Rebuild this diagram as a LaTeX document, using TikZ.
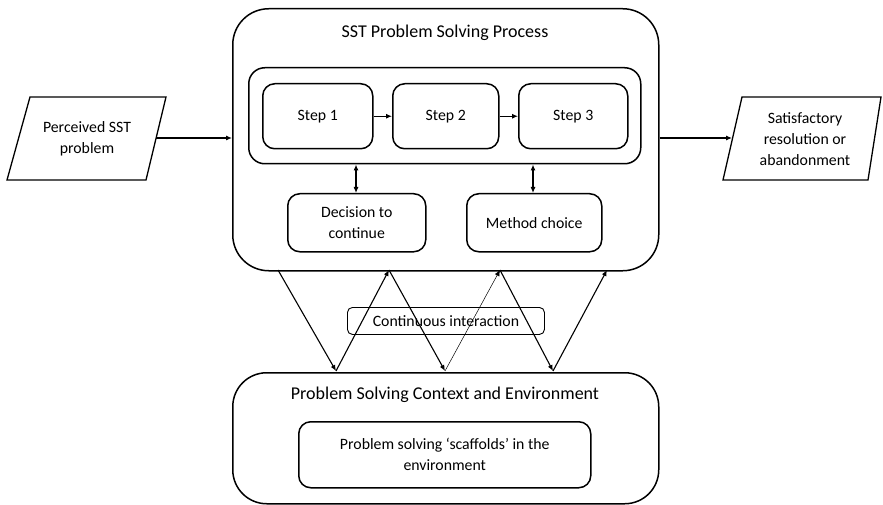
\documentclass[tikz,border=0pt]{standalone}
\usepackage{fontspec}
\setmainfont{Carlito}
\usetikzlibrary{arrows.meta,shapes.geometric}
\tikzset{
  box/.style={draw, line width=1.5pt, rounded corners=#1},
  box/.default=12pt,
  txt/.style={font=\fontsize{15.8}{21}\selectfont, align=center},
  ttl/.style={font=\fontsize{18}{21}\selectfont, align=center},
  arr/.style={line width=1.1pt, -{Latex[length=6pt,width=5pt]}},
  darr/.style={line width=1.1pt, {Latex[length=6pt,width=5pt]}-{Latex[length=6pt,width=5pt]}},
  para/.style={draw, line width=1.3pt}
}
\begin{document}
\begin{tikzpicture}[x=1pt,y=-1pt]
\useasboundingbox (0,0) rectangle (883,505);
% top big box
\node[box=36pt, minimum width=426pt, minimum height=262pt, anchor=north west] (top) at (232,8) {};
\node[ttl] (toptitle) at (445,33) {SST Problem Solving Process};
\node[box=16pt, minimum width=392pt, minimum height=96pt, anchor=north west] (cont) at (248,67) {};
\node[box, txt, minimum width=110pt, minimum height=65pt, anchor=north west] (s1) at (262,83) {};
\node[txt] at (s1.center) {Step 1};
\node[box, txt, minimum width=106pt, minimum height=65pt, anchor=north west] (s2) at (392,83) {};
\node[txt] at (s2.center) {Step 2};
\node[box, txt, minimum width=109pt, minimum height=65pt, anchor=north west] (s3) at (518,83) {};
\node[txt] at (s3.center) {Step 3};
\draw[arr] (s1) -- (s2);
\draw[arr] (s2) -- (s3);
\node[box, minimum width=138pt, minimum height=58pt, anchor=north west] (dec) at (287,193) {};
\node[txt] at (dec.center) {Decision to\\continue};
\node[box, minimum width=135pt, minimum height=58pt, anchor=north west] (meth) at (466,193) {};
\node[txt] at (meth.center) {Method choice};
\draw[darr] (dec.north -| 356,0) coordinate (d1) -- (cont.south -| d1);
\draw[darr] (meth.north -| 533,0) coordinate (m1) -- (cont.south -| m1);
% parallelograms
\draw[para] (30,97) -- (166,97) -- (146,180) -- (7,180) -- cycle;
\coordinate (inR) at (156,138);
\node[txt] (in) at (87,139) {Perceived SST\\problem};
\draw[para] (742,97) -- (881,97) -- (868,180) -- (723,180) -- cycle;
\coordinate (outL) at (732,138);
\node[txt] (out) at (805,139) {Satisfactory\\resolution or\\abandonment};
\draw[arr] (inR) -- (top.west |- inR);
\draw[arr] (top.east |- outL) -- (outL);
% bottom box
\node[box=34pt, minimum width=426pt, minimum height=131pt, anchor=north west] (bot) at (232,372) {};
\node[ttl] (bottitle) at (445,395) {Problem Solving Context and Environment};
\node[box, minimum width=292pt, minimum height=66pt, anchor=north west] (scaf) at (298,421) {};
\node[txt] at (scaf.center) {Problem solving `scaffolds' in the\\environment};
% continuous interaction
\node[draw, line width=0.9pt, rounded corners=5pt, minimum width=197pt, minimum height=27pt, txt, anchor=north west] (ci) at (347,307) {};
% zigzag coordinates
\coordinate (a1) at (278,270);
\coordinate (b1) at (336,371);
\coordinate (a2) at (389,270);
\coordinate (b2) at (445,371);
\coordinate (a3) at (500,270);
\coordinate (b3) at (553,371);
\coordinate (a4) at (607,270);
\draw[arr] (a1) -- (b1);
\draw[arr] (b1) -- (a2);
\draw[arr] (a2) -- (b2);
\draw[line width=0.5pt, -{Latex[length=6pt,width=5pt]}] (b2) -- (a3);
\draw[arr] (a3) -- (b3);
\draw[arr] (b3) -- (a4);
\node[txt] at (ci.center) {Continuous interaction};
\end{tikzpicture}
\end{document}
